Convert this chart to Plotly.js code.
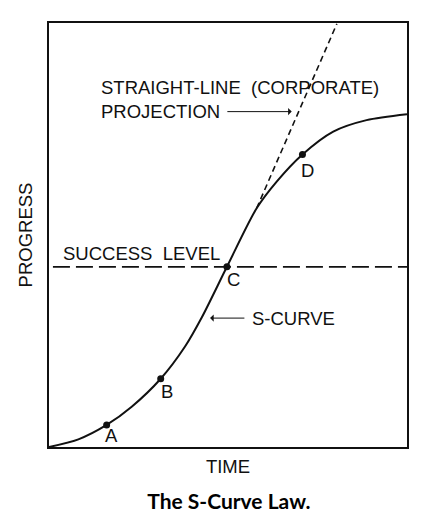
<!DOCTYPE html>
<html>
<head>
<meta charset="utf-8">
<script src="https://cdn.plot.ly/plotly-3.0.1.min.js"></script>
<style>html,body{margin:0;padding:0;background:#fff;}#chart{width:436px;height:531px;}</style>
</head>
<body>
<div id="chart"></div>
<script>
// S-curve trace (axes 0-100 arbitrary units)
const curveX = [0, 8.2, 16.1, 23.1, 31.2, 38.0, 42.7, 49.7, 58.0, 63.6, 70.8, 79.4, 88.7, 100];
const curveY = [0, 1.8, 5.2, 9.5, 16.1, 23.7, 30.6, 42.5, 56.3, 62.6, 69.0, 74.4, 77.1, 78.5];
// labelled points
const pointLabels = ["A", "B", "C", "D"];
const pointX = [16.1, 31.2, 49.7, 70.8];
const pointY = [5.2, 16.1, 42.5, 69.0];
const labelX = [17.5, 32.9, 51.5, 72.2];
const labelY = [2.8, 13.0, 39.4, 65.3];
// straight-line projection
const projX = [58.0, 80.4];
const projY = [56.3, 99.8];
// success level
const successX = [1.1, 100];
const successY = [42.5, 42.5];

const FONT = "Liberation Sans, Arial, Helvetica, sans-serif";
const TXT = "#111";
const FS = 18.5;

const traces = [
  {x: successX, y: successY, mode: "lines", line: {color: TXT, width: 1.8, dash: "17px,6px"}, hoverinfo: "skip", showlegend: false},
  {x: projX, y: projY, mode: "lines", line: {color: TXT, width: 1.6, dash: "6px,4px"}, hoverinfo: "skip", showlegend: false},
  {x: curveX, y: curveY, mode: "lines", line: {color: TXT, width: 2, shape: "spline", smoothing: 0.8}, hoverinfo: "skip", showlegend: false},
  {x: pointX, y: pointY, mode: "markers", marker: {color: TXT, size: 7}, text: pointLabels, hoverinfo: "text", showlegend: false}
];

const annotations = pointLabels.map((t, i) => ({
  x: labelX[i], y: labelY[i], xref: "x", yref: "y", text: t, showarrow: false,
  font: {family: FONT, size: FS, color: TXT}, xanchor: "center", yanchor: "middle"
}));
annotations.push(
  {x: 14.0, y: 84.7, xref: "x", yref: "y", text: "STRAIGHT-LINE&nbsp;&nbsp;(CORPORATE)", showarrow: false,
   font: {family: FONT, size: FS, color: TXT}, xanchor: "left", yanchor: "middle"},
  {x: 14.0, y: 79.1, xref: "x", yref: "y", text: "PROJECTION", showarrow: false,
   font: {family: FONT, size: FS, color: TXT}, xanchor: "left", yanchor: "middle"},
  {x: 67.8, y: 79.1, ax: 49.4, ay: 79.1, xref: "x", yref: "y", axref: "x", ayref: "y", text: "",
   showarrow: true, arrowhead: 1, arrowsize: 1.2, arrowwidth: 1, arrowcolor: TXT},
  {x: 3.4, y: 45.6, xref: "x", yref: "y", text: "SUCCESS&nbsp;&nbsp;LEVEL", showarrow: false,
   font: {family: FONT, size: FS, color: TXT}, xanchor: "left", yanchor: "middle"},
  {x: 56.1, y: 30.4, xref: "x", yref: "y", text: "S-CURVE", showarrow: false,
   font: {family: FONT, size: FS, color: TXT}, xanchor: "left", yanchor: "middle"},
  {x: 45.0, y: 30.4, ax: 55.0, ay: 30.4, xref: "x", yref: "y", axref: "x", ayref: "y", text: "",
   showarrow: true, arrowhead: 1, arrowsize: 1.2, arrowwidth: 1, arrowcolor: TXT}
);

const layout = {
  width: 436, height: 531,
  margin: {l: 49, r: 29, t: 23, b: 84},
  paper_bgcolor: "#fff", plot_bgcolor: "#fff",
  title: {text: "<b>The S-Curve Law.</b>", font: {family: "Lato, Open Sans, sans-serif", size: 21, color: "#000"},
          x: 0.525, xanchor: "center", y: 0.056, yanchor: "middle", xref: "container", yref: "container"},
  xaxis: {range: [0, 100], showgrid: false, zeroline: false, showticklabels: false, ticks: "",
          showline: true, mirror: true, linecolor: TXT, linewidth: 2,
          title: {text: "TIME", font: {family: FONT, size: FS, color: TXT}, standoff: 12}},
  yaxis: {range: [0, 100], showgrid: false, zeroline: false, showticklabels: false, ticks: "",
          showline: true, mirror: true, linecolor: TXT, linewidth: 2,
          title: {text: "PROGRESS", font: {family: FONT, size: FS, color: TXT}, standoff: 10}},
  annotations: annotations,
  showlegend: false
};

Plotly.newPlot("chart", traces, layout, {staticPlot: true, displayModeBar: false});
</script>
</body>
</html>
